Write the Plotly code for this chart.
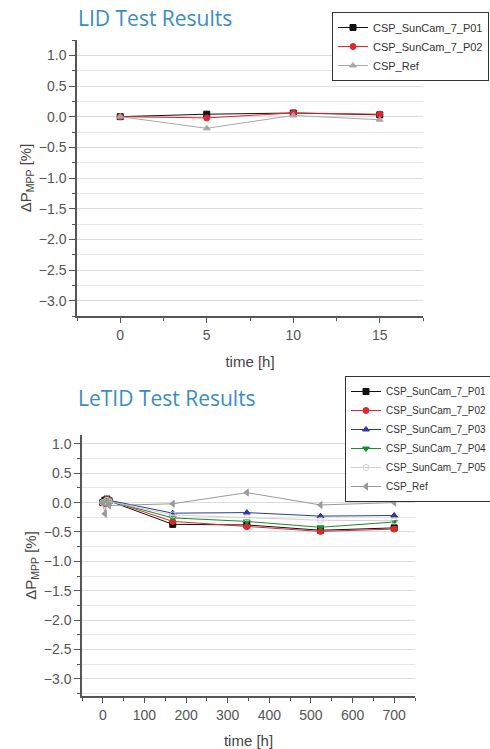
import plotly.graph_objects as go

# ---------------- data ----------------
lid_time = [0, 5, 10, 15]
lid_p01 = [0.0, 0.04, 0.06, 0.03]
lid_p02 = [0.0, -0.02, 0.06, 0.04]
lid_ref = [0.0, -0.19, 0.02, -0.05]

letid_time = [0, 5, 10, 15, 168, 346, 523, 700]
letid_p01 = [0.0, 0.04, 0.06, 0.03, -0.37, -0.38, -0.47, -0.43]
letid_p02 = [0.0, -0.02, 0.06, 0.04, -0.32, -0.41, -0.49, -0.45]
letid_p03 = [0.0, 0.03, 0.05, 0.04, -0.18, -0.17, -0.23, -0.22]
letid_p04 = [0.0, 0.02, 0.05, 0.03, -0.26, -0.32, -0.42, -0.33]
letid_p05 = [0.0, 0.01, 0.04, 0.02, -0.21, -0.26, -0.30, -0.31]
letid_ref = [0.0, -0.19, 0.02, -0.05, -0.02, 0.17, -0.04, 0.0]

names = ["CSP_SunCam_7_P01", "CSP_SunCam_7_P02", "CSP_SunCam_7_P03",
         "CSP_SunCam_7_P04", "CSP_SunCam_7_P05", "CSP_Ref"]
colors = ["#111111", "#e3262b", "#2b3a9e", "#1f8a2a", "#cfcfcf", "#9a9a9a"]

W, H = 490, 749
FONT = "Liberation Sans, Arial, sans-serif"
GREY = "#555555"

fig = go.Figure()

def add(x, y, name, color, symbol, xa, ya, legend):
    fig.add_trace(go.Scatter(
        x=x, y=y, name=name, mode="lines+markers",
        line=dict(color=color, width=1),
        marker=dict(color=color, symbol=symbol, size=6,
                    line=dict(color=color, width=1)),
        xaxis=xa, yaxis=ya, legend=legend))

add(lid_time, lid_p01, names[0], colors[0], "square", "x", "y", "legend")
add(lid_time, lid_p02, names[1], colors[1], "circle", "x", "y", "legend")
add(lid_time, lid_ref, names[5], "#a8a8a8", "triangle-up", "x", "y", "legend")

add(letid_time, letid_p01, names[0], colors[0], "square", "x2", "y2", "legend2")
add(letid_time, letid_p02, names[1], colors[1], "circle", "x2", "y2", "legend2")
add(letid_time, letid_p03, names[2], colors[2], "triangle-up", "x2", "y2", "legend2")
add(letid_time, letid_p04, names[3], colors[3], "triangle-down", "x2", "y2", "legend2")
add(letid_time, letid_p05, names[4], colors[4], "circle-open", "x2", "y2", "legend2")
add(letid_time, letid_ref, names[5], colors[5], "triangle-left", "x2", "y2", "legend2")

axis_common = dict(showline=True, linecolor=GREY, linewidth=1.5,
                   ticks="outside", tickcolor=GREY,
                   tickfont=dict(family=FONT, size=14, color=GREY),
                   zeroline=False)

def xd(l, r):
    return [l / W, r / W]

def yd(t, b):
    return [1 - b / H, 1 - t / H]

ytitle = dict(text="ΔP<sub>MPP</sub> [%]", font=dict(family=FONT, size=15, color="#444444"),
              standoff=4)
xtitle = dict(text="time [h]", font=dict(family=FONT, size=15, color="#444444"), standoff=15)

fig.update_layout(
    width=W, height=H,
    margin=dict(l=0, r=0, t=0, b=0, autoexpand=False),
    paper_bgcolor="white", plot_bgcolor="white",
    font=dict(family=FONT, color="#333333"),
    xaxis=dict(domain=xd(77, 423), range=[-2.5, 17.5], dtick=5, tick0=0,
               showgrid=False, anchor="y", ticklen=5,
               minor=dict(dtick=2.5, tick0=0, ticks="outside", ticklen=3, tickcolor=GREY),
               title=xtitle, **axis_common),
    yaxis=dict(domain=yd(40, 316), range=[-3.25, 1.25], dtick=0.5, tick0=0,
               tickformat=".1f", showgrid=True, gridcolor="#dedede", gridwidth=1,
               anchor="x", ticklen=6,
               minor=dict(dtick=0.25, tick0=0, ticks="outside", ticklen=3, tickcolor=GREY,
                          showgrid=True, gridcolor="#e6e6e6"),
               title=ytitle, **axis_common),
    xaxis2=dict(domain=xd(82, 415), range=[-50, 750], dtick=100, tick0=0,
                showgrid=False, anchor="y2", ticklen=5,
                minor=dict(dtick=50, tick0=0, ticks="outside", ticklen=3, tickcolor=GREY),
                title=xtitle, **axis_common),
    yaxis2=dict(domain=yd(435, 696), range=[-3.29, 1.15], dtick=0.5, tick0=0,
                tickformat=".1f", showgrid=True, gridcolor="#dedede", gridwidth=1,
                anchor="x2", ticklen=6,
                minor=dict(dtick=0.25, tick0=0, ticks="outside", ticklen=3, tickcolor=GREY,
                           showgrid=True, gridcolor="#e6e6e6"),
                title=ytitle, **axis_common),
    legend=dict(x=332 / W, y=1 - 12 / H, xanchor="left", yanchor="top",
                bordercolor="#333333", borderwidth=1, bgcolor="white",
                font=dict(family=FONT, size=11, color="#333333"),
                tracegroupgap=0, itemwidth=30),
    legend2=dict(x=345 / W, y=1 - 376 / H, xanchor="left", yanchor="top",
                 bordercolor="#333333", borderwidth=1, bgcolor="white",
                 font=dict(family=FONT, size=10, color="#333333"),
                 tracegroupgap=0, itemwidth=30),
    showlegend=True,
)

title_font = dict(family="Open Sans, sans-serif", size=21, color="#3a8cc6")
fig.add_annotation(text="LID Test Results", xref="paper", yref="paper",
                   x=76 / W, y=1 - 18 / H, xanchor="left", yanchor="middle",
                   showarrow=False, font=title_font)
fig.add_annotation(text="LeTID Test Results", xref="paper", yref="paper",
                   x=76 / W, y=1 - 398 / H, xanchor="left", yanchor="middle",
                   showarrow=False, font=title_font)

fig.write_html("out.html", config={"displayModeBar": False},
               post_script="document.body.style.margin='0';")
